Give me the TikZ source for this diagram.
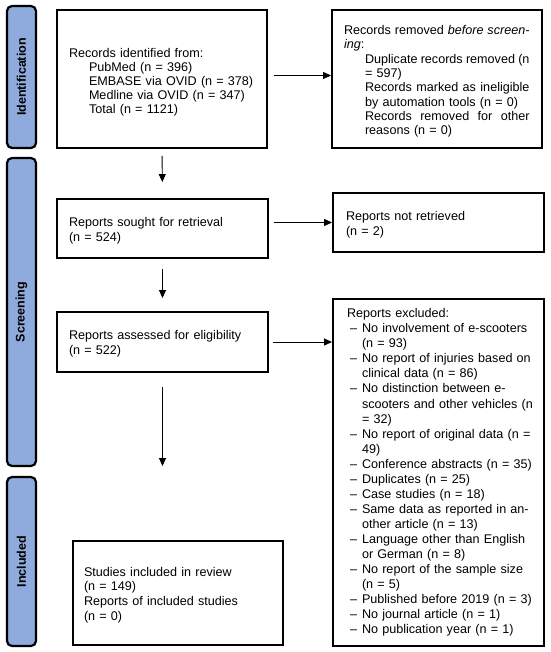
\documentclass[tikz,border=0pt]{standalone}
\usepackage{fontspec}
\setmainfont{Liberation Sans}
\usetikzlibrary{arrows.meta}
\definecolor{barblue}{HTML}{8FAADC}
\newcommand{\dl}[1]{\mbox{\makebox[15pt][l]{\hspace*{3pt}--}#1}}
\newcommand{\ind}[2][15pt]{\mbox{\hspace*{#1}#2}}
\newcommand{\jst}[2]{\mbox{\hspace*{#1}\hbox to \dimexpr185.5pt-#1\relax{#2}}}
\begin{document}
\begin{tikzpicture}[x=1pt,y=-1pt,
  phase/.style={draw=black, line width=2.2pt, fill=barblue, rounded corners=5pt,
    rotate=90, minimum height=29pt, inner sep=0pt,
    font=\fontsize{12.5}{14}\selectfont\bfseries},
  flowbox/.style={draw=black, line width=1.9pt, align=left, inner ysep=0pt,
    font=\fontsize{12.6}{15}\selectfont},
  arr/.style={line width=0.9pt, -{Triangle[length=8pt,width=7pt]}}]
\useasboundingbox (0,0) rectangle (550,652);
% phase bars
\node[phase, minimum width=142pt] (pid) at (21.5,77) {Identification};
\node[phase, minimum width=308pt] (psc) at (21.5,312) {Screening};
\node[phase, minimum width=169pt] (pin) at (21.5,561.5) {Included};
% boxes
\node[flowbox, font=\fontsize{12.6}{14}\selectfont, minimum width=210pt, minimum height=138pt,
  text width=186pt, inner xsep=12pt] (ident) at (162,79)
  {\rule{0pt}{15pt}Records identified from:\\
   \ind[20pt]{PubMed (n = 396)}\\
   \ind[20pt]{EMBASE via OVID (n = 378)}\\
   \ind[20pt]{Medline via OVID (n = 347)}\\
   \ind[20pt]{Total (n = 1121)}};
\node[flowbox, font=\fontsize{12.6}{14.3}\selectfont, minimum width=210pt, minimum height=138pt,
  text width=186pt, inner xsep=12pt] (removed) at (437,79)
  {\rule{0pt}{14pt}\jst{0pt}{Records\hfill removed\hfill \textit{before}\hfill \textit{screen-}}\\
   \textit{ing}:\\
   \jst{21pt}{Duplicate\hfill records\hfill removed\hfill (n}\\
   \ind[21pt]{= 597)}\\
   \jst{21pt}{Records\hfill marked\hfill as\hfill ineligible}\\
   \ind[21pt]{by automation tools (n = 0)}\\
   \jst{21pt}{Records\hfill removed\hfill for\hfill other}\\
   \ind[21pt]{reasons (n = 0)}};
\node[flowbox, minimum width=211pt, minimum height=59pt,
  text width=187pt, inner xsep=12pt] (sought) at (162.5,228.5)
  {\rule{0pt}{14pt}Reports sought for retrieval\\(n = 524)};
\node[flowbox, minimum width=211pt, minimum height=59pt,
  text width=185pt, inner xsep=13pt] (notret) at (438.5,222.5)
  {\rule{0pt}{14pt}Reports not retrieved\\(n = 2)};
\node[flowbox, minimum width=211pt, minimum height=60pt,
  text width=187pt, inner xsep=12pt] (assessed) at (162.5,342)
  {\rule{0pt}{13pt}Reports assessed for eligibility\\(n = 522)};
\node[flowbox, font=\fontsize{12.6}{15.05}\selectfont, minimum width=211pt, minimum height=347pt,
  text width=183pt, inner xsep=14pt] (excluded) at (438.5,472.5)
  {Reports excluded:\\
   \dl{No involvement of e-scooters}\\
   \ind{(n = 93)}\\
   \dl{No report of injuries based on}\\
   \ind{clinical data (n = 86)}\\
   \dl{No distinction between e-}\\
   \ind{scooters and other vehicles (n}\\
   \ind{= 32)}\\
   \dl{No report of original data (n =}\\
   \ind{49)}\\
   \dl{Conference abstracts (n = 35)}\\
   \dl{Duplicates (n = 25)}\\
   \dl{Case studies (n = 18)}\\
   \dl{Same data as reported in an-}\\
   \ind{other article (n = 13)}\\
   \dl{Language other than English}\\
   \ind{or German (n = 8)}\\
   \dl{No report of the sample size}\\
   \ind{(n = 5)}\\
   \dl{Published before 2019 (n = 3)}\\
   \dl{No journal article (n = 1)}\\
   \dl{No publication year (n = 1)}};
\node[flowbox, font=\fontsize{12.6}{14.7}\selectfont, minimum width=210pt, minimum height=104pt,
  text width=188pt, inner xsep=11pt] (studies) at (178,593)
  {\rule{0pt}{13pt}Studies included in review\\(n = 149)\\Reports of included studies\\(n = 0)};
% connectors
\draw[arr, shorten <=6pt] ([yshift=3.5pt]ident.east) -- ([yshift=3.5pt]removed.west);
\draw[arr, shorten <=5pt] (sought.east |- notret.west) -- (notret.west);
\draw[arr, shorten <=4pt] (assessed.east) -- (assessed.east -| excluded.west);
\draw[arr, shorten <=7pt, shorten >=16pt] (ident.south) -- (sought.north);
\draw[arr, shorten <=10pt, shorten >=13pt] (sought.south) -- (assessed.north);
\draw[arr, shorten <=14pt, shorten >=74pt] (assessed.south) -- (assessed.south |- studies.north);
\end{tikzpicture}
\end{document}
